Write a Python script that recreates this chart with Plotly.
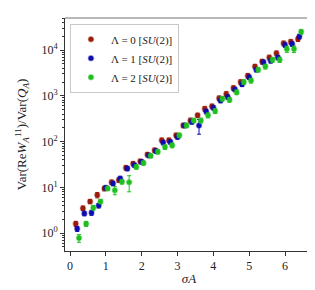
import plotly.graph_objects as go
import numpy as np

sigmaA = [0.2, 0.4, 0.6, 0.8, 1.0, 1.2, 1.4, 1.6, 1.8, 2.0, 2.2, 2.4, 2.6, 2.8, 3.0, 3.2,
          3.4, 3.6, 3.8, 4.0, 4.2, 4.4, 4.6, 4.8, 5.0, 5.2, 5.4, 5.6, 5.8, 6.0, 6.2, 6.4]

lam0 = [1.6, 3.5, 4.9, 6.8, 9.5, 13, 14.4, 26.8, 33, 37, 52, 65, 107, 107, 137, 226,
        290, 375, 520, 590, 890, 1100, 1480, 2000, 2750, 4350, 5600, 6900, 8500, 14000, 15100, 17400]
lam1 = [1.24, 2.7, 2.8, 4.0, 9.8, 12.2, 15.7, 25.8, 30.5, 36, 50, 62, 95, 98, 126, 226,
        270, 225, 455, 550, 790, 940, 1380, 1800, 2550, 3730, 5400, 5850, 6900, 12900, 13500, 19800]
lam2 = [0.78, 1.6, 3.6, 4.9, 9.5, 8.7, 13.3, 13, 28, 34, 49, 60, 76, 83, 137, 226,
        290, 290, 375, 465, 860, 820, 1200, 2000, 2150, 3730, 4350, 6100, 6150, 10500, 10500, 25000]

err0 = [0.2, 0.4, 0.5, 0.9, 1.1, 1.4, 1.6, 3.0, 3.5, 4.0, 5.5, 7, 12, 12, 15, 25,
        35, 40, 60, 65, 100, 130, 170, 230, 320, 500, 650, 800, 1000, 1600, 1700, 2000]
err1 = [0.15, 0.3, 0.35, 0.45, 1.0, 1.3, 1.7, 2.8, 3.2, 3.8, 5.2, 6.5, 10, 10, 13, 24,
        30, 80, 50, 60, 85, 100, 150, 200, 280, 400, 600, 650, 750, 1400, 1500, 2200]
err2 = [0.15, 0.2, 0.4, 0.5, 1.0, 1.8, 1.5, 5.0, 3.0, 3.6, 5.0, 6.5, 8.5, 9.5, 15, 25,
        32, 35, 45, 55, 95, 95, 140, 230, 250, 420, 500, 700, 800, 1600, 1700, 2800]

series = [
    ("Λ = 0 [<i>SU</i>(2)]", lam0, err0, -0.04, "#9b1c0c", "rgba(155,28,12,0.35)"),
    ("Λ = 1 [<i>SU</i>(2)]", lam1, err1, 0.0, "#0c0cb0", "rgba(12,12,176,0.35)"),
    ("Λ = 2 [<i>SU</i>(2)]", lam2, err2, 0.05, "#1fbf1f", "rgba(31,191,31,0.35)"),
]

fig = go.Figure()
for name, vals, errs, off, col, halo in series:
    fig.add_trace(go.Scatter(
        x=[s + off for s in sigmaA], y=vals, mode="markers", name=name,
        marker=dict(color=col, size=5, symbol="circle", line=dict(color=halo, width=1.5)),
        error_y=dict(type="data", array=errs, color=col, thickness=1, width=2),
    ))

font_fam = "Liberation Serif, DejaVu Serif, serif"
major = [0, 1, 2, 3, 4]
minor_vals = [m * 10 ** d for d in range(-1, 5) for m in range(2, 10)]

fig.update_layout(
    width=315, height=290,
    margin=dict(l=57, r=10, t=10, b=47, autoexpand=False),
    paper_bgcolor="white", plot_bgcolor="white",
    font=dict(family=font_fam, size=12, color="#222"),
    showlegend=True,
    legend=dict(x=0.02, y=0.975, xanchor="left", yanchor="top",
                bordercolor="#c8c8c8", borderwidth=1, bgcolor="white",
                font=dict(size=11, family=font_fam), itemwidth=30,
                tracegroupgap=0),
    xaxis=dict(range=[-0.14, 6.78], showgrid=False, zeroline=False,
               showline=True, linecolor="#333", linewidth=1, automargin=False,
               ticks="outside", ticklen=4, tickcolor="#333",
               tickvals=[0, 1, 2, 3, 4, 5, 6], tickfont=dict(size=12),
               title=dict(text="<i>σA</i>", font=dict(size=13), standoff=1)),
    yaxis=dict(type="log", range=[-0.39, 4.70], showgrid=False, zeroline=False,
               showline=True, linecolor="#333", linewidth=1, automargin=False,
               ticks="outside", ticklen=4, tickcolor="#333",
               tickvals=[10 ** d for d in major], tickfont=dict(size=12),
               ticktext=["10<sup>%d</sup>" % d for d in major],
               minor=dict(ticks="outside", ticklen=2, tickcolor="#333", tickvals=minor_vals, showgrid=False),
               title=dict(text="Var(Re<i>W</i><sub><i>A</i></sub><sup>11</sup>)/Var(<i>Q</i><sub><i>A</i></sub>)",
                          font=dict(size=13), standoff=11)),
)

fig.add_shape(type="line", xref="paper", yref="paper", x0=0, x1=1, y0=1, y1=1,
              line=dict(color="#b8b8b8", width=2))
fig.add_shape(type="line", xref="paper", yref="paper", x0=1, x1=1, y0=0, y1=1,
              line=dict(color="#b8b8b8", width=2))

fig.write_html("out.html")
